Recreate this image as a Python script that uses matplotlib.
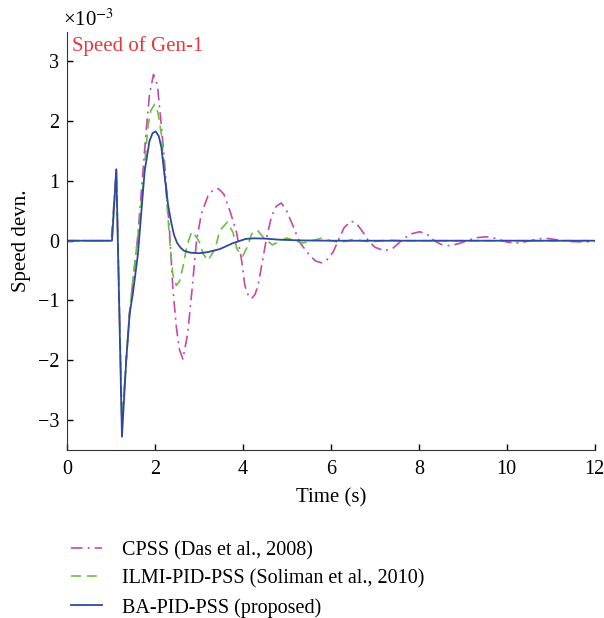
import matplotlib
matplotlib.use("Agg")
import matplotlib.pyplot as plt

# values in units of 1e-3
t_cpss = [0, 1.0, 1.114, 1.243, 1.34, 1.42, 1.49, 1.6, 1.68, 1.8, 1.87, 1.96, 2.05, 2.13, 2.21,
          2.33, 2.40, 2.48, 2.55, 2.63, 2.74, 2.84, 2.94, 3.05, 3.2, 3.32, 3.44, 3.56, 3.7, 3.85,
          3.96, 4.04, 4.12, 4.19, 4.27, 4.34, 4.45, 4.53, 4.65, 4.76, 4.87, 4.98, 5.1, 5.29, 5.52,
          5.65, 5.78, 5.92, 6.05, 6.15, 6.3, 6.46, 6.6, 6.75, 6.85, 7.0, 7.22, 7.42, 7.6, 7.8,
          8.02, 8.2, 8.35, 8.5, 8.7, 8.9, 9.1, 9.3, 9.53, 9.75, 9.9, 10.05, 10.21, 10.4, 10.55,
          10.7, 10.9, 11.1, 11.3, 11.5, 11.8, 12.0]
y_cpss = [0, 0, 1.19, -3.05, -2.0, -1.17, -0.7, 0.05, 0.78, 1.89, 2.45, 2.78, 2.6, 2.0, 1.33,
          0.11, -0.78, -1.44, -1.82, -1.98, -1.55, -0.8, 0.0, 0.45, 0.75, 0.85, 0.87, 0.78, 0.5, 0.14,
          -0.3, -0.75, -0.92, -0.97, -0.9, -0.75, -0.3, 0.03, 0.42, 0.58, 0.63, 0.52, 0.31, -0.03, -0.25,
          -0.34, -0.37, -0.31, -0.19, -0.02, 0.22, 0.33, 0.27, 0.12, 0.0, -0.11, -0.17, -0.12, 0.0, 0.11,
          0.15, 0.1, 0.0, -0.06, -0.085, -0.05, 0.0, 0.05, 0.065, 0.04, 0.0, -0.03, -0.04, -0.02, 0.0,
          0.03, 0.04, 0.02, 0.0, -0.015, -0.02, -0.01]

t_ilmi = [0, 1.016, 1.114, 1.243, 1.34, 1.42, 1.49, 1.61, 1.72, 1.83, 1.9, 1.985, 2.06, 2.14,
          2.25, 2.33, 2.40, 2.48, 2.55, 2.63, 2.73, 2.83, 2.95, 3.02, 3.09, 3.2, 3.36, 3.47, 3.64,
          3.77, 3.86, 3.99, 4.11, 4.19, 4.32, 4.49, 4.67, 4.83, 4.99, 5.18, 5.36, 5.57, 5.78, 6.0,
          6.2, 6.5, 6.9, 7.3, 7.6, 12.0]
y_ilmi = [0, 0, 1.19, -3.05, -2.0, -1.17, -0.67, 0.11, 0.9, 1.89, 2.18, 2.28, 2.15, 1.78,
          0.78, 0.0, -0.56, -0.75, -0.68, -0.44, -0.06, 0.15, 0.05, -0.05, -0.22, -0.33, -0.14, 0.17, 0.31,
          0.14, -0.14, -0.26, -0.08, 0.11, 0.18, 0.03, -0.07, -0.01, 0.045, 0.0, -0.04, 0.0, 0.04, 0.0,
          -0.03, 0.02, -0.02, 0.01, 0.0, 0.0]

t_ba = [0, 1.016, 1.114, 1.243, 1.34, 1.418, 1.49, 1.607, 1.68, 1.76, 1.87, 1.94, 2.01, 2.08,
        2.14, 2.21, 2.29, 2.36, 2.43, 2.5, 2.58, 2.66, 2.8, 3.0, 3.2, 3.47, 3.77, 4.06, 4.25, 4.5,
        4.83, 5.3, 6.0, 12.0]
y_ba = [0, 0, 1.195, -3.28, -2.0, -1.22, -0.89, -0.22, 0.445, 1.17, 1.67, 1.80, 1.83, 1.75,
        1.56, 1.11, 0.61, 0.32, 0.09, -0.04, -0.12, -0.17, -0.2, -0.21, -0.19, -0.14, -0.04, 0.03,
        0.04, 0.035, 0.017, 0.005, 0.0, 0.0]

labels = ["CPSS (Das et al., 2008)", "ILMI-PID-PSS (Soliman et al., 2010)", "BA-PID-PSS (proposed)"]
x_ticks = [0, 2, 4, 6, 8, 10, 12]
y_ticks = [-3, -2, -1, 0, 1, 2, 3]

plt.rcParams['font.family'] = ['Liberation Serif', 'DejaVu Serif']
plt.rcParams['mathtext.fontset'] = 'stix'
plt.rcParams['font.size'] = 14

fig = plt.figure(figsize=(6.04, 6.18), dpi=100)
ax = fig.add_axes([0.1115, 0.272, 0.873, 0.677])

l1, = ax.plot(t_cpss, y_cpss, color='#C24AA8', lw=1.2, linestyle=(0, (7, 3, 1.2, 3)))
l2, = ax.plot(t_ilmi, y_ilmi, color='#6DBE45', lw=1.2, linestyle=(0, (6, 3.5)))
l3, = ax.plot(t_ba, y_ba, color='#2C4A9E', lw=1.3)

ax.set_xlim(0, 12)
ax.set_ylim(-3.5, 3.5)
ax.set_xticks(x_ticks)
ax.set_yticks(y_ticks)
ax.set_yticklabels([("\u2212%d" % -v) if v < 0 else str(v) for v in y_ticks])
ax.tick_params(direction='in', length=4, width=1, labelsize=14.5)
ax.tick_params(axis='x', pad=7)
ax.tick_params(axis='y', pad=6)
ax.spines['top'].set_visible(False)
ax.spines['right'].set_visible(False)
ax.spines['left'].set_color('#333333')
ax.spines['bottom'].set_color('#333333')
ax.set_xlabel("Time (s)", fontsize=15, labelpad=7)
ax.set_ylabel("Speed devn.", fontsize=15, labelpad=5)

ax.text(0.008, 0.988, "Speed of Gen-1", transform=ax.transAxes, color='#E8363E',
        fontsize=15, va='top', ha='left')
fig.text(0.105, 0.950, "\u00d710$^{-3}$", fontsize=15, va='bottom', ha='left')

fig.legend([l1, l2, l3], labels, loc='upper left', bbox_to_anchor=(0.105, 0.138),
           frameon=False, fontsize=14.5, handlelength=1.5, handletextpad=1.0,
           labelspacing=0.46, borderaxespad=0)

fig.savefig("out.png", dpi=100)
